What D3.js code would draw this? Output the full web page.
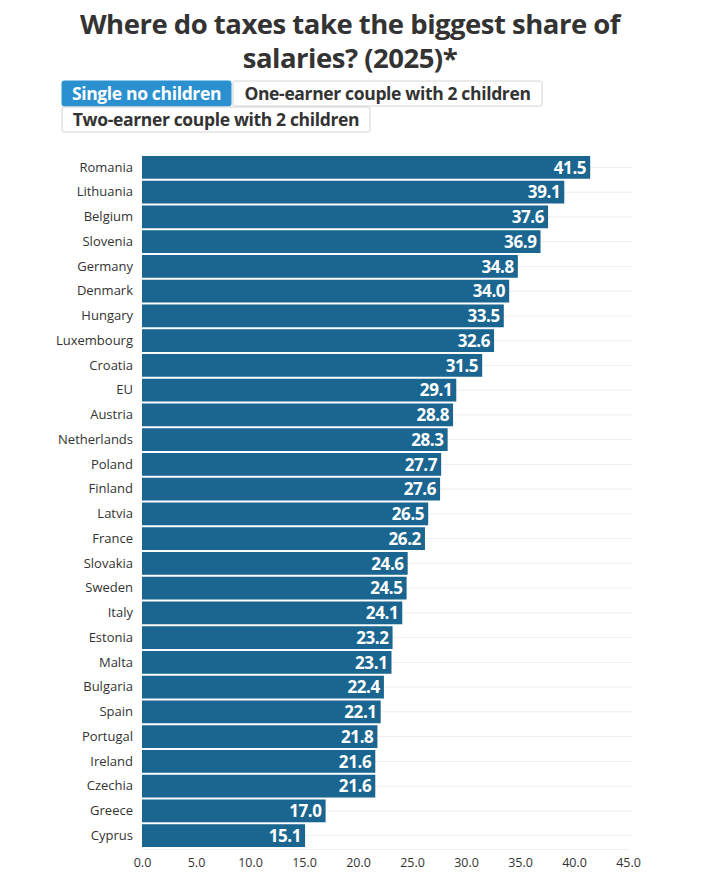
<!DOCTYPE html>
<html>
<head>
<meta charset="utf-8">
<script src="https://cdn.jsdelivr.net/npm/d3@7"></script>
<style>
  body { margin: 0; background: #fff; font-family: "Open Sans", sans-serif; }
</style>
</head>
<body>
<script>
// data
const countries = ["Romania", "Lithuania", "Belgium", "Slovenia", "Germany", "Denmark", "Hungary",
    "Luxembourg", "Croatia", "EU", "Austria", "Netherlands", "Poland", "Finland", "Latvia", "France",
    "Slovakia", "Sweden", "Italy", "Estonia", "Malta", "Bulgaria", "Spain", "Portugal", "Ireland",
    "Czechia", "Greece", "Cyprus"];
const values = [41.5, 39.1, 37.6, 36.9, 34.8, 34.0, 33.5, 32.6, 31.5, 29.1, 28.8, 28.3, 27.7, 27.6,
    26.5, 26.2, 24.6, 24.5, 24.1, 23.2, 23.1, 22.4, 22.1, 21.8, 21.6, 21.6, 17.0, 15.1];
const xTicks = [0, 5, 10, 15, 20, 25, 30, 35, 40, 45];
const buttons = ["Single no children", "One-earner couple with 2 children", "Two-earner couple with 2 children"];
const titleLines = ["Where do taxes take the biggest share of", "salaries? (2025)*"];

const W = 716, H = 887;
const margin = {top: 154, right: 88, bottom: 38, left: 142};
const width = W - margin.left - margin.right,
      height = H - margin.top - margin.bottom;

const svg = d3.select("body").append("svg")
    .attr("width", W)
    .attr("height", H);

// title
svg.append("g").selectAll("text")
    .data(titleLines)
    .enter().append("text")
    .attr("x", 350)
    .attr("y", (d, i) => 34 + i * 34)
    .attr("text-anchor", "middle")
    .attr("font-size", 27.5)
    .attr("font-weight", 700)
    .attr("fill", "#333")
    .attr("letter-spacing", -0.5)
    .text(d => d);

// toggle buttons
const btnBox = [
    {x: 62, y: 81, w: 169},
    {x: 233, y: 81, w: 309},
    {x: 62, y: 107, w: 308}
];
const btn = svg.append("g").selectAll("g")
    .data(buttons)
    .enter().append("g")
    .attr("transform", (d, i) => "translate(" + btnBox[i].x + "," + btnBox[i].y + ")");

btn.append("rect")
    .attr("width", (d, i) => btnBox[i].w)
    .attr("height", 25)
    .attr("rx", 2)
    .attr("fill", (d, i) => i === 0 ? "#2a90d0" : "#fff")
    .attr("stroke", (d, i) => i === 0 ? "#2a90d0" : "#d4d4d4");

btn.append("text")
    .attr("x", (d, i) => btnBox[i].w / 2)
    .attr("y", 19)
    .attr("text-anchor", "middle")
    .attr("font-size", 17.5)
    .attr("font-weight", 700)
    .attr("letter-spacing", -0.35)
    .attr("fill", (d, i) => i === 0 ? "#fff" : "#333")
    .text(d => d);

const chart = svg.append("g")
    .attr("transform", "translate(" + margin.left + "," + margin.top + ")");

const x = d3.scaleLinear()
    .domain([0, 45])
    .range([0, 486]);

const y = d3.scaleBand()
    .domain(countries)
    .range([0, height])
    .padding(0.08);

// faint horizontal grid lines
chart.append("g").selectAll("line")
    .data(countries)
    .enter().append("line")
    .attr("x1", 0)
    .attr("x2", x(45) + 4)
    .attr("y1", d => y(d) + y.bandwidth() / 2)
    .attr("y2", d => y(d) + y.bandwidth() / 2)
    .attr("stroke", "#eeeeee");

// x axis
const xAxis = chart.append("g")
    .attr("transform", "translate(0," + height + ")")
    .call(d3.axisBottom(x).tickValues(xTicks).tickFormat(d3.format(".1f")).tickSize(0).tickPadding(9));
xAxis.select(".domain").attr("stroke", "#eee");
xAxis.selectAll("text")
    .attr("font-family", "Open Sans")
    .attr("font-size", 12.5)
    .attr("fill", "#333");

// y axis
const yAxis = chart.append("g")
    .call(d3.axisLeft(y).tickSize(0).tickPadding(9));
yAxis.select(".domain").remove();
yAxis.selectAll("text")
    .attr("font-family", "Open Sans")
    .attr("font-size", 13)
    .attr("fill", "#333");

// bars
const rows = countries.map((c, i) => ({country: c, value: values[i]}));

chart.append("g").selectAll("rect")
    .data(rows)
    .enter().append("rect")
    .attr("x", 0)
    .attr("y", d => y(d.country))
    .attr("width", d => x(d.value))
    .attr("height", y.bandwidth())
    .attr("fill", "#1b6690");

// value labels
chart.append("g").selectAll("text")
    .data(rows)
    .enter().append("text")
    .attr("x", d => x(d.value) - 4)
    .attr("y", d => y(d.country) + y.bandwidth() / 2)
    .attr("dy", "0.37em")
    .attr("text-anchor", "end")
    .attr("font-size", 17)
    .attr("font-weight", 700)
    .attr("letter-spacing", -0.4)
    .attr("fill", "#fff")
    .text(d => d.value.toFixed(1));
</script>
</body>
</html>
